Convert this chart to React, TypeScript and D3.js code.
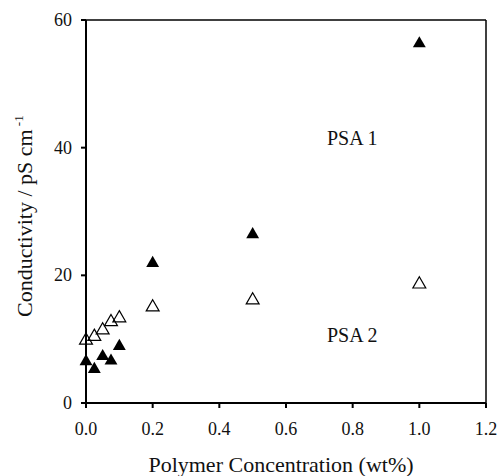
import React from "react";
import * as d3 from "d3";

// Polymer concentration (wt%) for each measurement
const psa1Conc = [0, 0.025, 0.05, 0.075, 0.1, 0.2, 0.5, 1.0];
const psa1Cond = [6.5, 5.3, 7.3, 6.6, 8.9, 21.9, 26.4, 56.3];

const psa2Conc = [0, 0.025, 0.05, 0.075, 0.1, 0.2, 0.5, 1.0];
const psa2Cond = [9.8, 10.4, 11.4, 12.7, 13.3, 15.0, 16.1, 18.6];

const xTicks = [0, 0.2, 0.4, 0.6, 0.8, 1.0, 1.2];
const yTicks = [0, 20, 40, 60];

const W = 502;
const H = 476;
const left = 86;
const right = 486;
const top = 20;
const bottom = 403;
const FONT = '"Liberation Serif", "Times New Roman", serif';

export default function App() {
  const x = d3.scaleLinear().domain([0, 1.2]).range([left, right]);
  const y = d3.scaleLinear().domain([0, 60]).range([bottom, top]);
  const tri = d3.symbol().type(d3.symbolTriangle).size(72)() as string;

  const psa1 = psa1Conc.map((c, i) => ({ c, v: psa1Cond[i] }));
  const psa2 = psa2Conc.map((c, i) => ({ c, v: psa2Cond[i] }));

  const ts = { fontFamily: FONT };

  return (
    <svg
      width={W}
      height={H}
      style={{ position: "absolute", left: 0, top: 0, background: "#fff", fontFamily: FONT }}
    >
      {/* frame */}
      <line x1={left} x2={right} y1={top} y2={top} stroke="#000" strokeWidth={1.5} />
      <line x1={right} x2={right} y1={top} y2={bottom} stroke="#000" strokeWidth={1.5} />
      <line x1={left} x2={right} y1={bottom} y2={bottom} stroke="#000" strokeWidth={2} />
      <line x1={left} x2={left} y1={top} y2={bottom} stroke="#000" strokeWidth={2} />

      {/* x axis ticks */}
      {xTicks.map((t) => (
        <g key={"x" + t}>
          <line x1={x(t)} x2={x(t)} y1={bottom} y2={bottom + 5} stroke="#000" strokeWidth={2} />
          <text x={x(t)} y={435} textAnchor="middle" fontSize={18} fill="#111" style={ts}>
            {t.toFixed(1)}
          </text>
        </g>
      ))}

      {/* y axis ticks */}
      {yTicks.map((t) => (
        <g key={"y" + t}>
          <line x1={left - 5} x2={left} y1={y(t)} y2={y(t)} stroke="#000" strokeWidth={2} />
          <text x={72} y={y(t) + 6} textAnchor="end" fontSize={18} fill="#111" style={ts}>
            {t}
          </text>
        </g>
      ))}

      {/* axis titles */}
      <text x={281} y={472} textAnchor="middle" fontSize={22} fill="#111" style={ts}>
        Polymer Concentration (wt%)
      </text>
      <text transform="translate(32,317) rotate(-90)" textAnchor="start" fontSize={22} fill="#111" style={ts}>
        Conductivity / pS cm
        <tspan fontSize={13} dy={-9}>
          {" -1"}
        </tspan>
      </text>

      {/* series labels */}
      <text x={327} y={145} fontSize={20} fill="#111" style={ts}>
        PSA 1
      </text>
      <text x={327} y={342} fontSize={20} fill="#111" style={ts}>
        PSA 2
      </text>

      {/* PSA 2: open triangles */}
      {psa2.map((d, i) => (
        <path
          key={"b" + i}
          d={tri}
          transform={`translate(${x(d.c)},${y(d.v)})`}
          fill="none"
          stroke="#000"
          strokeWidth={1.2}
        />
      ))}

      {/* PSA 1: filled triangles */}
      {psa1.map((d, i) => (
        <path key={"a" + i} d={tri} transform={`translate(${x(d.c)},${y(d.v)})`} fill="#000" />
      ))}
    </svg>
  );
}
